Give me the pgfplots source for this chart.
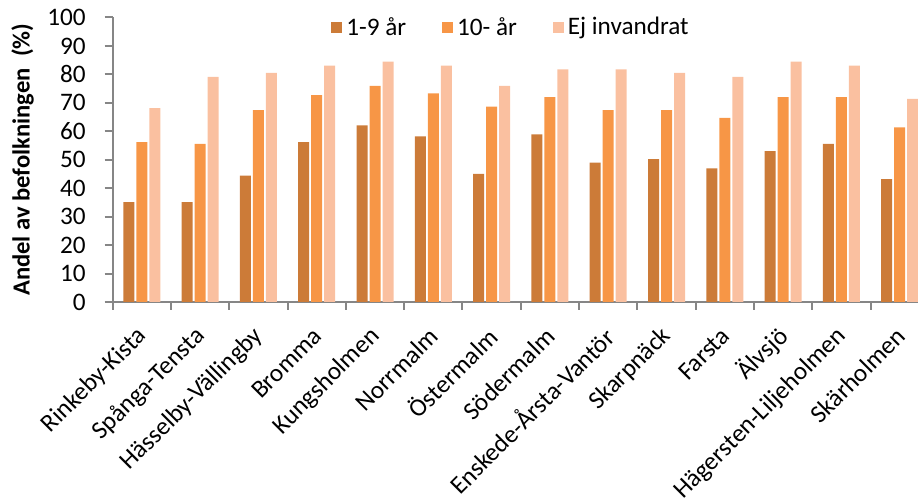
\documentclass[border=0pt]{standalone}
\usepackage{fontspec}
\setmainfont{Carlito}
\usepackage{pgfplots}
\pgfplotsset{compat=1.18}
\definecolor{cBrown}{RGB}{204,123,56}
\definecolor{cOrange}{RGB}{247,150,70}
\definecolor{cPeach}{RGB}{250,192,160}
\definecolor{axisgray}{RGB}{134,134,134}
\pgfplotstableread{
x a b c
0 35.1 56.2 68.1
1 35.1 55.6 79.1
2 44.4 67.4 80.5
3 56.2 72.7 83.1
4 62.1 76.0 84.5
5 58.2 73.3 83.1
6 45.0 68.7 76.0
7 58.9 72.0 81.8
8 49.0 67.4 81.8
9 50.2 67.4 80.5
10 47.0 64.7 79.1
11 53.0 72.0 84.5
12 55.6 72.0 83.1
13 43.2 61.4 71.4
}\datatable
\begin{document}
\begin{tikzpicture}
\begin{axis}[
  scale only axis, width=408.1pt, height=142.25pt,
  ybar=1pt, bar width=5.5pt,
  xmin=-0.5, xmax=13.5, ymin=0, ymax=100,
  axis lines*=left,
  axis line style={axisgray, line width=1pt},
  every tick/.style={axisgray, line width=1pt},
  tick align=outside, major tick length=4pt,
  ytick={0,10,...,100},
  xtick={-0.5,0.5,...,13.5},
  x tick label as interval,
  xticklabels={Rinkeby-Kista,Spånga-Tensta,Hässelby-Vällingby,Bromma,Kungsholmen,Norrmalm,Östermalm,Södermalm,Enskede-Årsta-Vantör,Skarpnäck,Farsta,Älvsjö,Hägersten-Liljeholmen,Skärholmen},
  ticklabel style={font=\fontsize{12.6}{15}\selectfont},
  /pgf/number format/assume math mode=true,
  xticklabel style={xshift=0.5pt, yshift=-11pt, rotate=45, anchor=east, inner sep=0pt},
  yticklabel style={xshift=-6pt},
  ylabel={Andel av befolkningen\ \ (\%)},
  ylabel style={font=\fontsize{12.3}{15}\selectfont\bfseries, at={(axis description cs:-0.1103,0.5)}, anchor=center},
  legend style={at={(axis cs:3.14,96.4)}, anchor=west, draw=none, fill=none,
    legend columns=3, font=\fontsize{12.6}{15}\selectfont,
    /tikz/every even column/.append style={column sep=16pt}},
  legend image code/.code={\fill[#1] (-2pt,-2.75pt) rectangle (3.5pt,2.75pt);},
  legend cell align=left,
]
\addplot[fill=cBrown, draw=none] table[x=x, y=a] {\datatable};
\addplot[fill=cOrange, draw=none] table[x=x, y=b] {\datatable};
\addplot[fill=cPeach, draw=none] table[x=x, y=c] {\datatable};
\legend{1-9 år, 10-\ år, Ej invandrat}
\coordinate (sw) at (rel axis cs:0,0);
\end{axis}
\pgfresetboundingbox
\path[use as bounding box] ([xshift=-56.35pt,yshift=-99.5pt]sw) rectangle ([xshift=402.65pt,yshift=151pt]sw);
\end{tikzpicture}
\end{document}
